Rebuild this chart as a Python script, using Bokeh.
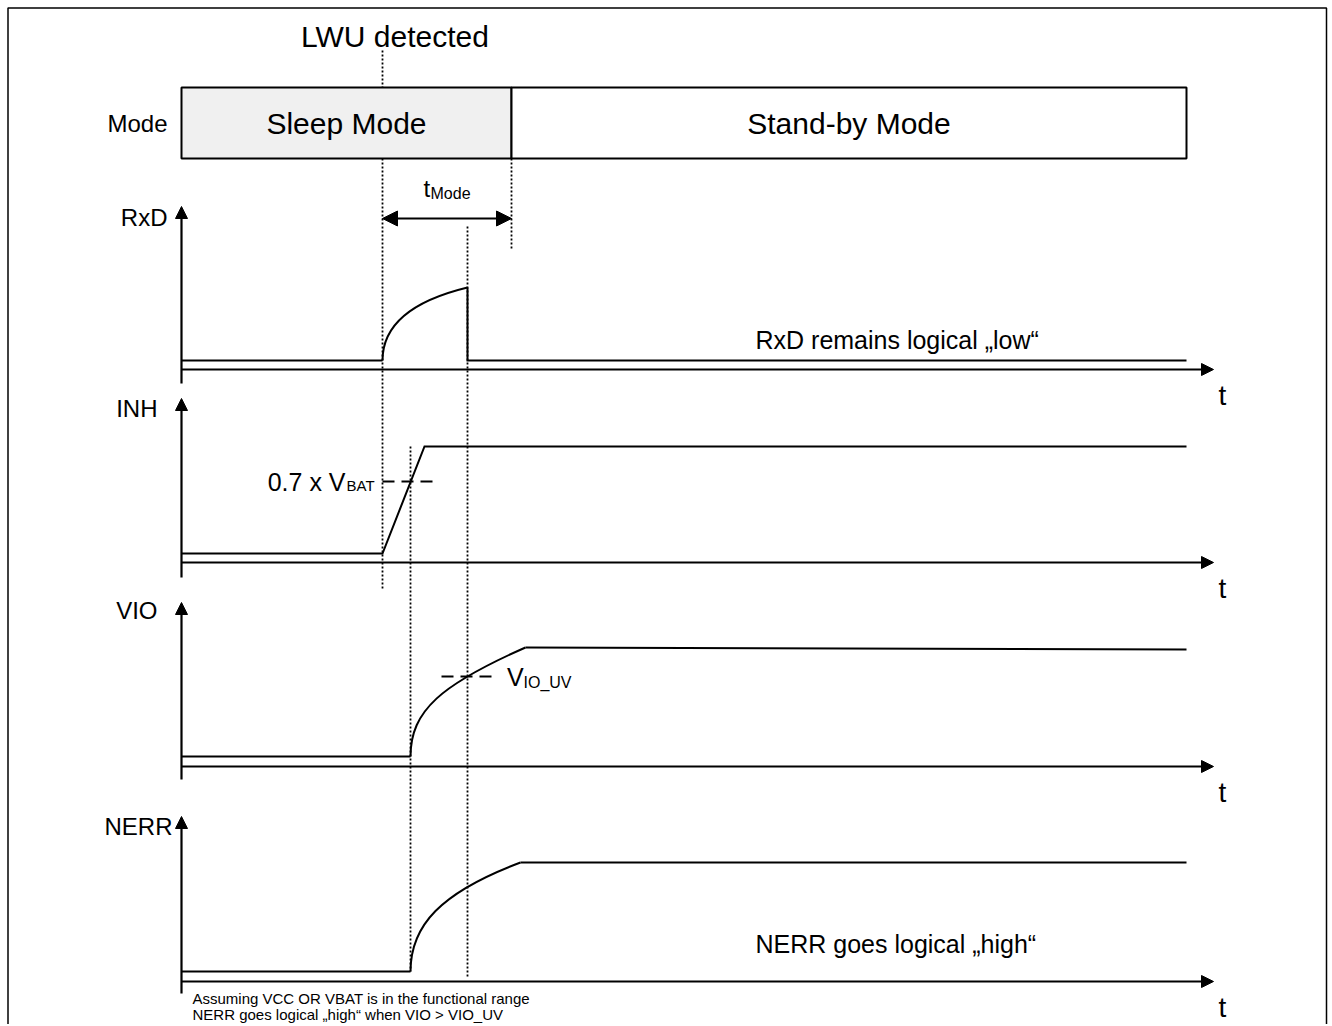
from bokeh.plotting import figure
from bokeh.models import Range1d, Arrow, NormalHead, ColumnDataSource
from bokeh.core.properties import value
from bokeh.embed import file_html
from bokeh.resources import INLINE

FONT = "Liberation Sans"

# ---------------- data (diagram coordinates, time to the right, level upward = smaller y) ----
# mode bar
mode_names = ["Sleep Mode", "Stand-by Mode"]
mode_start = [181, 511]
mode_end = [511, 1186]
mode_fill = ["#f0f0f0", "#ffffff"]
mode_top, mode_bottom = 87, 158

# event times
t_origin = 181
t_lwu = 382        # LWU detected
t_vio = 410        # INH crosses 0.7 x VBAT -> VIO / NERR start rising
t_rxd = 467        # RxD pulse ends / VIO crosses VIO_UV
t_mode = 511       # mode change
t_inh_high = 424
t_vio_high = 525
t_nerr_high = 520
t_last = 1186
t_axis_end = 1213

# signals
signal_names = ["RxD", "INH", "VIO", "NERR"]
axis_y = [369, 562, 766, 981]
tip_y = [206, 398, 602, 816]
axis_bottom = [383, 577, 779, 993]
low_y = [360, 553, 756, 971]
label_y = [217, 408, 610, 826]
label_right = [167, 157, 157, 172]

rxd_peak = 287
inh_high = 446
vio_high_start, vio_high_end = 647, 649
nerr_high = 862
inh_threshold = 481
vio_threshold = 676

# rise curves (start, controls, end) for RxD, VIO, NERR
curve_x0 = [t_lwu, t_vio, t_vio]
curve_y0 = [360, 756, 971]
curve_cx0 = [t_lwu, t_vio, t_vio]
curve_cy0 = [329, 710, 925]
curve_cx1 = [405, 441, 440]
curve_cy1 = [302, 684, 892]
curve_x1 = [t_rxd, t_vio_high, t_nerr_high]
curve_y1 = [rxd_peak, vio_high_start, nerr_high]

# ---------------- figure --------------------------------------------------------------------
W, H = 1330, 1024
p = figure(width=W, height=H, x_range=Range1d(0, W), y_range=Range1d(H, 0),
           output_backend="svg", toolbar_location=None, min_border=0)
p.axis.visible = False
p.grid.visible = False
p.outline_line_color = None
p.background_fill_color = "white"
p.border_fill_color = "white"

# outer frame
p.multi_line(xs=[[7.5, 7.5, 1326, 1326]], ys=[[1040, 7.5, 7.5, 1040]],
             line_color="black", line_width=1.5)

# dotted guide lines
dot_x = [t_lwu, t_mode, t_rxd, t_vio]
dot_top = [50, mode_bottom, 226, inh_high]
dot_bot = [589, 248, 978, 971]
p.segment(x0=dot_x, y0=dot_top, x1=dot_x, y1=dot_bot,
          line_color="black", line_width=1.8, line_dash="2 2")

# mode bar
p.quad(left=mode_start, right=mode_end, top=[mode_top] * 2, bottom=[mode_bottom] * 2,
       fill_color=mode_fill, line_color="black", line_width=2)

# axes with arrow heads
for ay, ty, ab in zip(axis_y, tip_y, axis_bottom):
    p.add_layout(Arrow(x_start=t_origin, y_start=ab, x_end=t_origin, y_end=ty,
                       line_width=2.2, line_color="black",
                       end=NormalHead(size=12, fill_color="black", line_color="black", line_width=1)))
    p.add_layout(Arrow(x_start=t_origin, y_start=ay, x_end=t_axis_end, y_end=ay,
                       line_width=2.2, line_color="black",
                       end=NormalHead(size=12, fill_color="black", line_color="black", line_width=1)))

# t_Mode double arrow
p.add_layout(Arrow(x_start=t_lwu, y_start=218, x_end=t_mode, y_end=218,
                   line_width=2, line_color="black",
                   start=NormalHead(size=15, fill_color="black", line_color="black", line_width=1),
                   end=NormalHead(size=15, fill_color="black", line_color="black", line_width=1)))

# signal straight parts
sig_xs = [
    [t_origin, t_lwu],
    [t_rxd, t_rxd, t_last],
    [t_origin, t_lwu, t_inh_high, t_last],
    [t_origin, t_vio],
    [t_vio_high, t_last],
    [t_origin, t_vio],
    [t_nerr_high, t_last],
]
sig_ys = [
    [low_y[0], low_y[0]],
    [rxd_peak, low_y[0], low_y[0]],
    [low_y[1], low_y[1], inh_high, inh_high],
    [low_y[2], low_y[2]],
    [vio_high_start, vio_high_end],
    [low_y[3], low_y[3]],
    [nerr_high, nerr_high],
]
p.multi_line(xs=sig_xs, ys=sig_ys, line_color="black", line_width=2, line_join="miter")

# signal curved rises
p.bezier(x0=curve_x0, y0=curve_y0, x1=curve_x1, y1=curve_y1,
         cx0=curve_cx0, cy0=curve_cy0, cx1=curve_cx1, cy1=curve_cy1,
         line_color="black", line_width=2)

# threshold dashes
p.segment(x0=[t_lwu, 441], y0=[inh_threshold, vio_threshold], x1=[438, 498],
          y1=[inh_threshold, vio_threshold], line_color="black", line_width=1.8, line_dash="12 7")

# ---------------- texts (y = visual centre of capitals) -------------------------------------
tx, ty, tt, ts, ta = [], [], [], [], []


def add(x, y, text, size, align):
    tx.append(x); ty.append(y); tt.append(text); ts.append(size); ta.append(align)


add(394.5, 36, "LWU detected", "30px", "center")
add(167, 123, "Mode", "24px", "right")
for name, a, b in zip(mode_names, mode_start, mode_end):
    add((a + b) / 2, 123, name, "30px", "center")
for name, ly, lr in zip(signal_names, label_y, label_right):
    add(lr, ly, name, "24px", "right")
for ay in axis_y:
    add(1222, ay + 26, "t", "28px", "center")
add(423, 188, "t", "24px", "left")
add(430, 193, "Mode", "16px", "left")
add(345, 481, "0.7 x V", "25px", "right")
add(346, 485, "BAT", "15px", "left")
add(506.5, 676, "V", "25px", "left")
add(523, 682, "IO_UV", "16px", "left")
add(755, 339, "RxD remains logical \u201elow\u201c", "25px", "left")
add(755, 943, "NERR goes logical \u201ehigh\u201c", "25px", "left")
add(192, 998, "Assuming VCC OR VBAT is in the functional range", "15px", "left")
add(192, 1014, "NERR goes logical \u201ehigh\u201c when VIO > VIO_UV", "15px", "left")

src = ColumnDataSource(dict(x=tx, y=ty, text=tt, size=ts, align=ta))
p.text(x="x", y="y", text="text", source=src, text_font=value(FONT),
       text_font_size="size", text_align="align", text_baseline="alphabetic",
       text_color="black")

open("out.html", "w").write(file_html(p, INLINE))
